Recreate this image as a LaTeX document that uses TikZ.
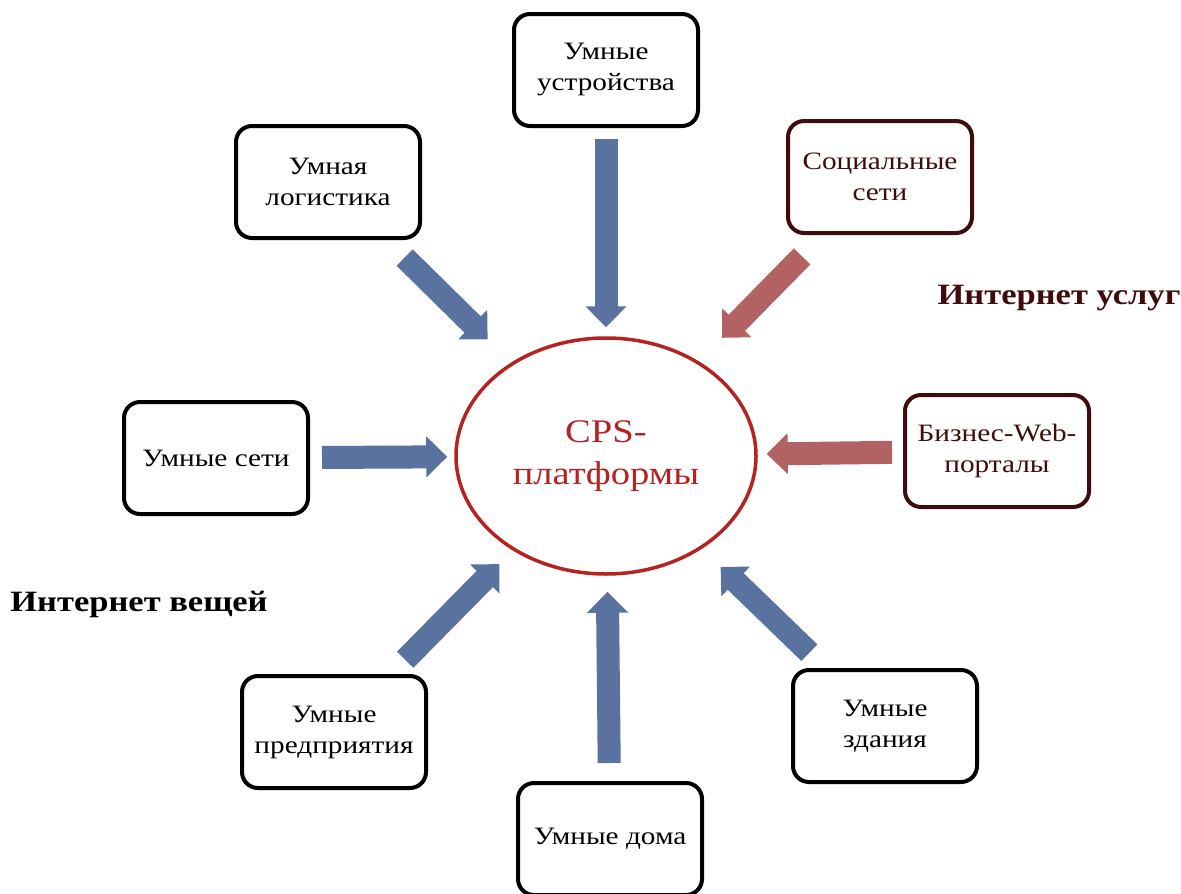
\documentclass[tikz,border=0pt]{standalone}
\usepackage{fontspec}
\setmainfont{Liberation Serif}[FakeStretch=1.17]
\usetikzlibrary{shapes.geometric,arrows.meta}
\definecolor{arrblue}{RGB}{90,114,160}
\definecolor{arrred}{RGB}{178,98,98}
\definecolor{cpsred}{RGB}{180,34,34}
\definecolor{darkmaroon}{RGB}{62,12,12}
\tikzset{
  boxnode/.style={draw, rounded corners=16pt, line width=4pt, fill=white,
    minimum width=184pt, minimum height=112pt, align=center,
    font=\fontsize{25}{31}\selectfont},
  iotbox/.style={boxnode, draw=black, text=black},
  iosbox/.style={boxnode, draw=darkmaroon, text=darkmaroon},
  fatblue/.style={draw=arrblue, line width=23pt,
    -{Triangle[length=21pt,width=40pt]}},
  fatred/.style={fatblue, draw=arrred},
  grouplabel/.style={font=\fontsize{29.5}{36}\selectfont\bfseries}
}

\begin{document}
\begin{tikzpicture}[x=1pt,y=-1pt]
\useasboundingbox (0,0) rectangle (1181,894);

\node[ellipse, draw=cpsred, line width=3.5pt, minimum width=300pt,
      minimum height=236pt, align=center, text=cpsred,
      font=\fontsize{33}{42}\selectfont] (cps) at (606,456) {CPS-\\платформы};

% the eight sources round the platform
\foreach \nm/\x/\y/\st/\txt in {
    dev/606/70/iotbox/{Умные\\устройства},
    log/328/182/iotbox/{Умная\\логистика},
    soc/880/177/iosbox/{Социальные\\сети},
    biz/997/451/iosbox/{Бизнес-Web-\\порталы},
    net/216/458/iotbox/{Умные сети},
    ent/334/732/iotbox/{Умные\\предприятия},
    home/610/839/iotbox/{Умные дома},
    bld/885/726/iotbox/{Умные\\здания}}
{
\node[\st] (\nm) at (\x,\y) {\txt};
}

% fat arrows into the ellipse
\foreach \nm/\st/\a/\b in {
    dev/fatblue/11pt/9pt, log/fatblue/25pt/33pt,
    soc/fatred/30pt/33pt, biz/fatred/11pt/9pt,
    net/fatblue/12pt/7pt, ent/fatblue/20pt/19pt,
    home/fatblue/18pt/16pt, bld/fatblue/22pt/26pt}
{
\draw[\st, shorten <=\a, shorten >=\b] (\nm) -- (cps);
}

\node[grouplabel, text=darkmaroon] (ios) at (1059,298) {Интернет услуг};
\node[grouplabel] (iot) at (139,604) {Интернет вещей};
\end{tikzpicture}
\end{document}
